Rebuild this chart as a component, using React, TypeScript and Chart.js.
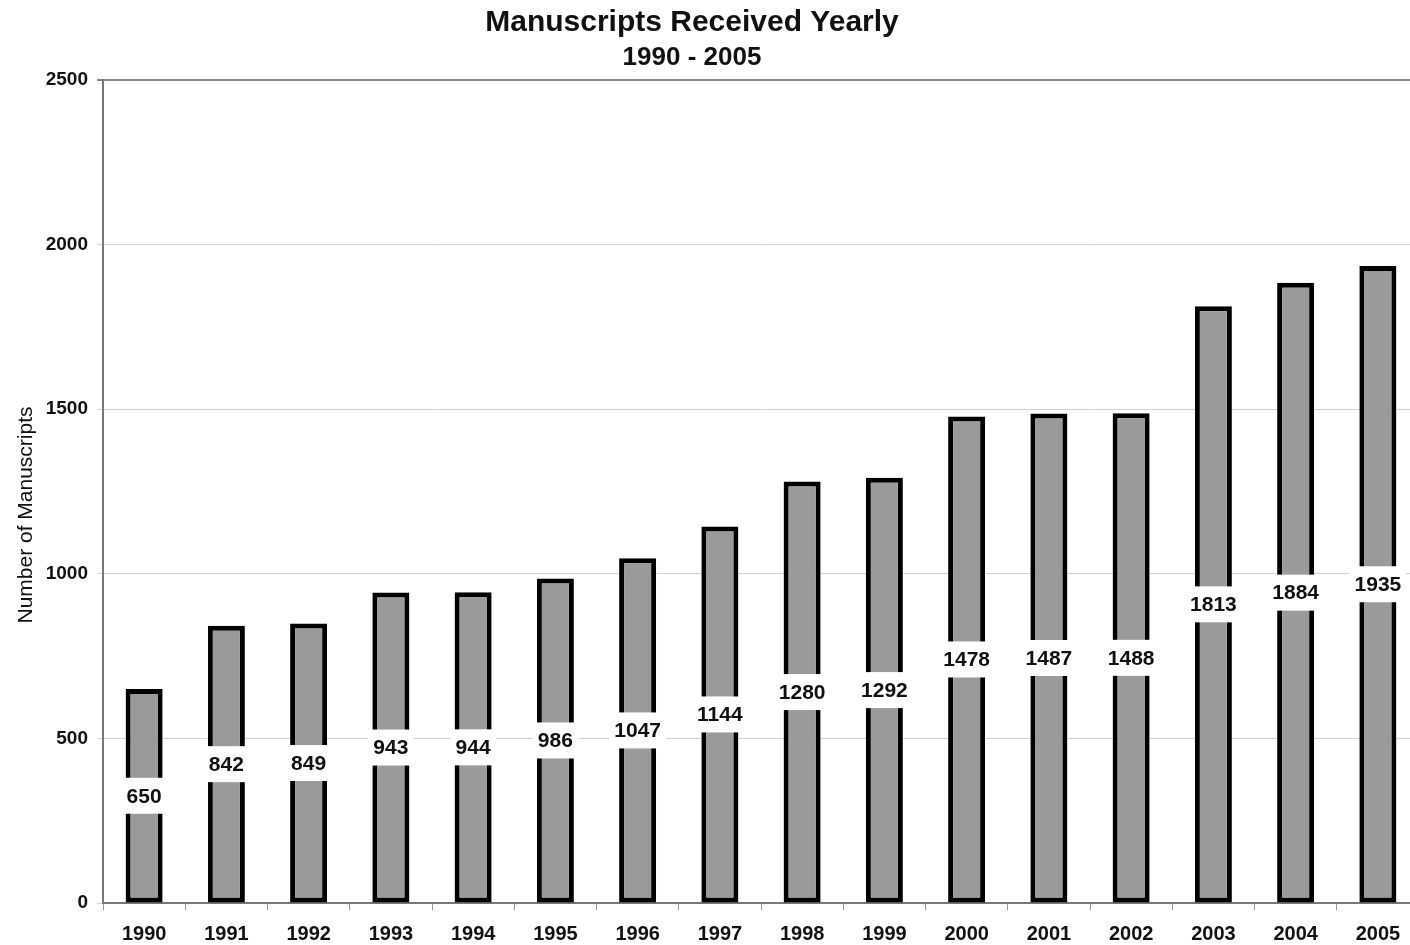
import React, { useEffect, useRef } from "react";
import { Chart, registerables } from "chart.js";

Chart.register(...registerables);

const years = ["1990", "1991", "1992", "1993", "1994", "1995", "1996", "1997", "1998", "1999", "2000", "2001", "2002", "2003", "2004", "2005"];
const manuscripts = [650, 842, 849, 943, 944, 986, 1047, 1144, 1280, 1292, 1478, 1487, 1488, 1813, 1884, 1935];
const titleText = "Manuscripts Received Yearly";
const subtitleText = "1990 - 2005";
const yAxisTitle = "Number of Manuscripts";
const yMin = 0;
const yMax = 2500;
const yStep = 500;

const FONT = "'Liberation Sans', Arial, Helvetica, sans-serif";

const textPlugin = {
  id: "customText",
  afterDatasetsDraw(chart: any) {
    const ctx = chart.ctx;
    const meta = chart.getDatasetMeta(0);
    ctx.save();
    ctx.font = `bold 21px ${FONT}`;
    ctx.textAlign = "center";
    ctx.textBaseline = "middle";
    meta.data.forEach((bar: any, i: number) => {
      const mid = (bar.y + bar.base) / 2;
      const label = String(manuscripts[i]);
      const w = Math.max(ctx.measureText(label).width + 10, 46);
      ctx.fillStyle = "#ffffff";
      ctx.fillRect(bar.x - w / 2, mid - 18, w, 36);
      ctx.fillStyle = "#111111";
      ctx.fillText(label, bar.x, mid + 1);
    });
    ctx.restore();
  },
  afterDraw(chart: any) {
    const ctx = chart.ctx;
    ctx.save();
    ctx.fillStyle = "#111111";
    ctx.textAlign = "center";
    ctx.textBaseline = "middle";
    ctx.font = `bold 30px ${FONT}`;
    ctx.fillText(titleText, 692, 23);
    ctx.font = `bold 26px ${FONT}`;
    ctx.fillText(subtitleText, 692, 58);
    ctx.translate(26, 515);
    ctx.rotate(-Math.PI / 2);
    ctx.font = `21px ${FONT}`;
    ctx.fillText(yAxisTitle, 0, 0);
    ctx.restore();
  },
};

export default function App() {
  const ref = useRef<HTMLCanvasElement | null>(null);
  useEffect(() => {
    if (!ref.current) return;
    const chart = new Chart(ref.current, {
      type: "bar",
      data: {
        labels: years,
        datasets: [
          {
            data: manuscripts,
            backgroundColor: "#9a9a9a",
            borderColor: "#000000",
            borderWidth: 5,
            borderSkipped: false,
            barPercentage: 0.45,
            categoryPercentage: 1,
          },
        ],
      },
      options: {
        responsive: false,
        animation: false,
        devicePixelRatio: 1,
        layout: { padding: { top: 80, right: 1, left: 0, bottom: 0 } },
        plugins: { legend: { display: false }, title: { display: false }, tooltip: { enabled: false } },
        scales: {
          x: {
            grid: { offset: true, drawOnChartArea: false, drawTicks: true, tickLength: 7, color: "#999999" },
            border: { color: "#777777", width: 2 },
            ticks: { font: { family: FONT, size: 20, weight: "bold" }, color: "#111111", padding: 12, maxRotation: 0 },
            afterFit(scale: any) { scale.height = 42; },
          },
          y: {
            min: yMin,
            max: yMax,
            ticks: {
              stepSize: yStep,
              font: { family: FONT, size: 19, weight: "bold" },
              color: "#111111",
              padding: 9,
              callback: (v: any) => String(v),
            },
            grid: {
              tickLength: 6,
              color: (c: any) => (c.tick && c.tick.value === yMax ? "#888888" : "#d2d2d2"),
              lineWidth: (c: any) => (c.tick && c.tick.value === yMax ? 2 : 1),
            },
            border: { color: "#777777", width: 2 },
            afterFit(scale: any) { scale.width = 103; },
          },
        },
      },
      plugins: [textPlugin],
    });
    return () => chart.destroy();
  }, []);
  return (
    <div style={{ position: "fixed", left: 0, top: 0, width: 1410, height: 945, overflow: "hidden", background: "#fff" }}>
      <canvas ref={ref} width={1420} height={945} style={{ display: "block" }} />
    </div>
  );
}
